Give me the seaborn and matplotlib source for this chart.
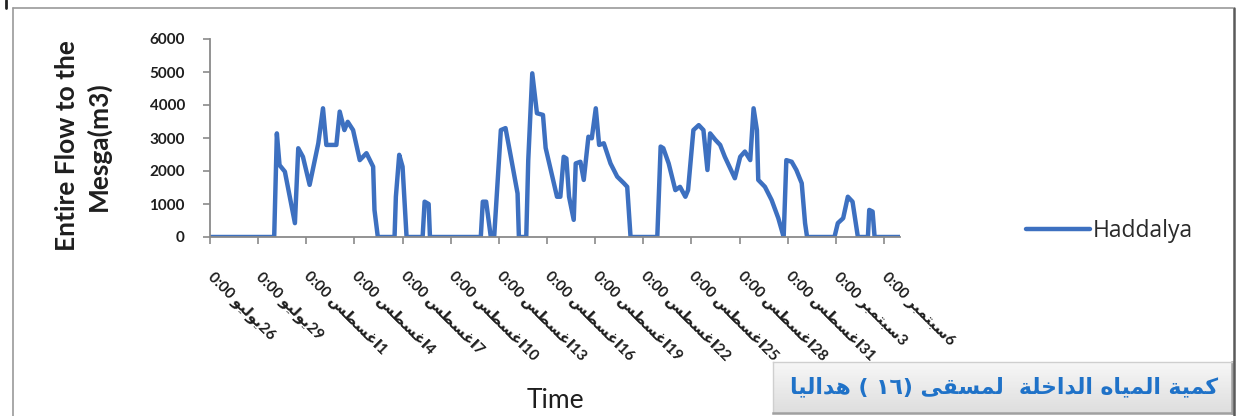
import numpy as np
import pandas as pd
import matplotlib
matplotlib.use("Agg")
import matplotlib.pyplot as plt
from matplotlib.lines import Line2D
import seaborn as sns

# ---- data -------------------------------------------------------------
times = [
    "2015-07-26 00:00", "2015-07-30 00:00", "2015-07-30 04:00", "2015-07-30 08:00",
    "2015-07-30 16:00", "2015-07-31 07:00", "2015-07-31 12:00", "2015-07-31 19:00",
    "2015-08-01 05:00", "2015-08-01 18:00", "2015-08-02 01:00", "2015-08-02 06:00",
    "2015-08-02 21:00", "2015-08-03 02:00", "2015-08-03 09:00", "2015-08-03 14:00",
    "2015-08-03 22:00", "2015-08-04 08:00", "2015-08-04 18:00", "2015-08-05 04:00",
    "2015-08-05 06:00", "2015-08-05 11:00", "2015-08-06 12:00", "2015-08-06 14:00",
    "2015-08-06 19:00", "2015-08-07 00:00", "2015-08-07 06:00", "2015-08-08 06:00",
    "2015-08-08 09:00", "2015-08-08 15:00", "2015-08-08 17:00", "2015-08-11 21:00",
    "2015-08-12 00:00", "2015-08-12 05:00", "2015-08-12 12:00", "2015-08-12 17:00",
    "2015-08-13 03:00", "2015-08-13 10:00", "2015-08-13 18:00", "2015-08-14 04:00",
    "2015-08-14 06:00", "2015-08-14 17:00", "2015-08-14 20:00", "2015-08-15 02:00",
    "2015-08-15 09:00", "2015-08-15 18:00", "2015-08-15 22:00", "2015-08-16 08:00",
    "2015-08-16 15:00", "2015-08-16 20:00", "2015-08-17 01:00", "2015-08-17 05:00",
    "2015-08-17 09:00", "2015-08-17 16:00", "2015-08-17 19:00", "2015-08-18 02:00",
    "2015-08-18 07:00", "2015-08-18 14:00", "2015-08-18 19:00", "2015-08-19 01:00",
    "2015-08-19 06:00", "2015-08-19 13:00", "2015-08-19 23:00", "2015-08-20 09:00",
    "2015-08-20 19:00", "2015-08-21 00:00", "2015-08-21 01:00", "2015-08-21 05:00",
    "2015-08-22 21:00", "2015-08-23 02:00", "2015-08-23 06:00", "2015-08-23 14:00",
    "2015-08-24 00:00", "2015-08-24 07:00", "2015-08-24 15:00", "2015-08-24 19:00",
    "2015-08-25 03:00", "2015-08-25 11:00", "2015-08-25 18:00", "2015-08-26 00:00",
    "2015-08-26 04:00", "2015-08-26 12:00", "2015-08-26 19:00", "2015-08-27 02:00",
    "2015-08-27 17:00", "2015-08-28 01:00", "2015-08-28 08:00", "2015-08-28 16:00",
    "2015-08-28 21:00", "2015-08-29 02:00", "2015-08-29 04:00", "2015-08-29 14:00",
    "2015-08-30 00:00", "2015-08-30 10:00", "2015-08-30 18:00", "2015-08-30 22:00",
    "2015-08-31 06:00", "2015-08-31 13:00", "2015-08-31 21:00", "2015-09-01 02:00",
    "2015-09-01 05:00", "2015-09-02 22:00", "2015-09-03 03:00", "2015-09-03 11:00",
    "2015-09-03 18:00", "2015-09-04 01:00", "2015-09-04 09:00", "2015-09-05 00:00",
    "2015-09-05 02:00", "2015-09-05 07:00", "2015-09-05 10:00", "2015-09-07 00:00",
]
flow = [
    0, 0, 3140, 2180,
    1980, 420, 2690, 2430,
    1580, 2840, 3900, 2790,
    2790, 3800, 3240, 3490,
    3240, 2330, 2540, 2130,
    820, 0, 0, 1220,
    2490, 2130, 0, 0,
    1070, 1000, 0, 0,
    1070, 1070, 0, 0,
    3240, 3300, 2430, 1320,
    0, 0, 2330, 4960,
    3750, 3700, 2700, 1830,
    1220, 1220, 2430, 2380,
    1220, 520, 2230, 2280,
    1730, 3040, 2990, 3900,
    2790, 2840, 2230, 1830,
    1630, 1520, 1220, 0,
    0, 2740, 2690, 2230,
    1420, 1520, 1220, 1420,
    3240, 3390, 3240, 2030,
    3140, 2940, 2790, 2430,
    1780, 2430, 2590, 2330,
    3900, 3240, 1730, 1520,
    1120, 570, 0, 2330,
    2280, 2030, 1630, 420,
    0, 0, 420, 570,
    1220, 1070, 0, 0,
    820, 770, 0, 0,
]
series_name = "Haddalya"
y_ticks = [0, 1000, 2000, 3000, 4000, 5000, 6000]
tick_start, tick_end = "2015-07-26", "2015-09-06"
month_names = {7: "يوليو", 8: "اغسطس", 9: "سبتمبر"}
y_label = "Entire Flow to the\nMesga(m3)"
x_label = "Time"
caption = "كمية المياه الداخلة  لمسقى (١٦ ) هداليا"

# ---- minimal Arabic shaping (matplotlib draws glyphs left to right) ----
# (isolated, final, initial, medial) presentation forms
FORMS = {
    "ا": ("\uFE8D", "\uFE8E", None, None),
    "ب": ("\uFE8F", "\uFE90", "\uFE91", "\uFE92"),
    "ة": ("\uFE93", "\uFE94", None, None),
    "ت": ("\uFE95", "\uFE96", "\uFE97", "\uFE98"),
    "خ": ("\uFEA5", "\uFEA6", "\uFEA7", "\uFEA8"),
    "د": ("\uFEA9", "\uFEAA", None, None),
    "ر": ("\uFEAD", "\uFEAE", None, None),
    "س": ("\uFEB1", "\uFEB2", "\uFEB3", "\uFEB4"),
    "ط": ("\uFEC1", "\uFEC2", "\uFEC3", "\uFEC4"),
    "غ": ("\uFECD", "\uFECE", "\uFECF", "\uFED0"),
    "ق": ("\uFED5", "\uFED6", "\uFED7", "\uFED8"),
    "ك": ("\uFED9", "\uFEDA", "\uFEDB", "\uFEDC"),
    "ل": ("\uFEDD", "\uFEDE", "\uFEDF", "\uFEE0"),
    "م": ("\uFEE1", "\uFEE2", "\uFEE3", "\uFEE4"),
    "ه": ("\uFEE9", "\uFEEA", "\uFEEB", "\uFEEC"),
    "و": ("\uFEED", "\uFEEE", None, None),
    "ى": ("\uFEEF", "\uFEF0", "\uFBE8", "\uFBE9"),
    "ي": ("\uFEF1", "\uFEF2", "\uFEF3", "\uFEF4"),
}
MIRROR = {"(": ")", ")": "("}


def shape_word(word):
    out = []
    for i, ch in enumerate(word):
        iso, fin, ini, med = FORMS[ch]
        prev_joins = i > 0 and FORMS[word[i - 1]][2] is not None
        next_joins = i < len(word) - 1 and ini is not None
        if prev_joins and next_joins:
            out.append(med)
        elif prev_joins:
            out.append(fin)
        elif next_joins:
            out.append(ini)
        else:
            out.append(iso)
    return "".join(reversed(out))


def rtl(text):
    """Arrange a right-to-left line into drawing order."""
    tokens, cur, kind = [], "", None
    for ch in text:
        k = "ar" if ch in FORMS else ("num" if ch.isdigit() else "other")
        if k == kind and k != "other":
            cur += ch
        else:
            if cur:
                tokens.append((kind, cur))
            cur, kind = ch, k
    if cur:
        tokens.append((kind, cur))
    parts = []
    for k, t in reversed(tokens):
        if k == "ar":
            parts.append(shape_word(t))
        elif k == "num":
            parts.append(t)
        else:
            parts.append(MIRROR.get(t, t))
    return "".join(parts)


# ---- figure -----------------------------------------------------------
sns.set_theme(style="white")
plt.rcParams["font.family"] = ["Lato", "DejaVu Sans"]

W, H = 1246, 416
fig = plt.figure(figsize=(W / 100, H / 100), dpi=100)
fig.patch.set_facecolor("white")

ax = fig.add_axes([210 / W, 1 - 237 / H, 690 / W, 198 / H])
df = pd.DataFrame({"Time": pd.to_datetime(times), "Flow": flow})
line_color = "#3d70c0"
sns.lineplot(data=df, x="Time", y="Flow", color=line_color, linewidth=3.2,
             label=series_name, ax=ax, solid_joinstyle="round")

ax.set_xlim(pd.Timestamp("2015-07-26"), pd.Timestamp("2015-09-07"))
ax.set_ylim(0, 6000)
ax.set_yticks(y_ticks)
ax.set_yticklabels([str(v) for v in y_ticks])

ticks = pd.date_range(tick_start, tick_end, freq="3D")
labels = [f"0:00 {rtl(month_names[t.month])}{t.day}" for t in ticks]
ax.set_xticks(ticks)
ax.set_xticklabels(labels, rotation=-45, ha="left", va="center",
                   rotation_mode="anchor")

for side in ("top", "right"):
    ax.spines[side].set_visible(False)
for side in ("left", "bottom"):
    ax.spines[side].set_color("#8a8a8a")
    ax.spines[side].set_linewidth(1.3)
ax.tick_params(axis="both", which="major", direction="out", length=5,
               width=1.2, color="#8a8a8a", labelcolor="#1e1e1e",
               bottom=True, left=True)
ax.tick_params(axis="y", labelsize=11, pad=13)
ax.tick_params(axis="x", labelsize=11, pad=22)
for lab in ax.get_yticklabels() + ax.get_xticklabels():
    lab.set_fontweight("bold")

ax.set_xlabel("")
ax.set_ylabel("")
fig.text(555 / W, 1 - 400 / H, x_label, ha="center", va="center",
         fontsize=19, color="#1e1e1e")
fig.text(83 / W, 1 - 146 / H, y_label, rotation=90, ha="center",
         va="center", fontsize=19, fontweight="bold", color="#1e1e1e",
         linespacing=1.3, multialignment="center")

handles, leg_labels = ax.get_legend_handles_labels()
ax.legend(handles, leg_labels, loc="center left", frameon=False,
          bbox_to_anchor=(1005 / W, 1 - 231 / H),
          bbox_transform=fig.transFigure,
          prop={"family": ["Open Sans", "DejaVu Sans"], "size": 16.5},
          handlelength=2.8, handletextpad=0.15, labelcolor="#2a2a2a")

# ---- caption box ------------------------------------------------------
cap = fig.add_axes([773 / W, 1 - 413 / H, 459 / W, 51 / H])
grad = np.linspace(0, 1, 64)[:, None]
cap.imshow(grad, aspect="auto", cmap=matplotlib.colors.LinearSegmentedColormap
           .from_list("g", ["#f7f7f7", "#dedede"]), extent=(0, 1, 0, 1),
           origin="upper")
cap.set_xlim(0, 1)
cap.set_ylim(0, 1)
cap.set_xticks([])
cap.set_yticks([])
for side, sp in cap.spines.items():
    sp.set_color("#a0a0a0" if side in ("bottom", "right") else "#cfcfcf")
    sp.set_linewidth(1.8 if side in ("bottom", "right") else 1.0)
cap.text(0.97, 0.5, rtl(caption), ha="right", va="center",
         fontsize=15.8, fontweight="bold", color="#1f72c8",
         family=["DejaVu Sans"])

# ---- outer frame ------------------------------------------------------
frame = dict(transform=fig.transFigure, color="#9a9a9a", linewidth=1.2)
fig.add_artist(Line2D([13 / W, 13 / W], [0, 1 - 8 / H], **frame))
fig.add_artist(Line2D([13 / W, 1233 / W], [1 - 8 / H, 1 - 8 / H], **frame))
fig.add_artist(Line2D([1234 / W, 1234 / W], [0, 1 - 8 / H],
                      transform=fig.transFigure, color="#5a5a5a", linewidth=1.8))
fig.add_artist(Line2D([6 / W, 6 / W], [1 - 8 / H, 1],
                      transform=fig.transFigure, color="#222222", linewidth=2))

fig.savefig("out.png", dpi=100)
